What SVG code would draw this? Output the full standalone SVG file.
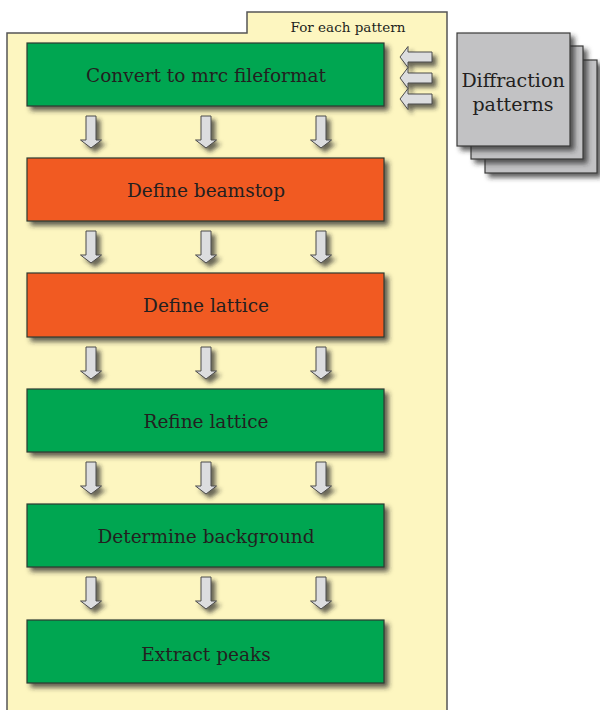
<svg xmlns="http://www.w3.org/2000/svg" width="600" height="710" viewBox="0 0 600 710">
<defs>
<filter id="sh" x="-20%" y="-20%" width="150%" height="150%">
<feDropShadow dx="4" dy="4" stdDeviation="2.5" flood-color="#2a2a2a" flood-opacity="0.75"/>
</filter>
<filter id="sha" x="-50%" y="-30%" width="220%" height="170%">
<feDropShadow dx="4" dy="4" stdDeviation="2.2" flood-color="#2a2a2a" flood-opacity="0.7"/>
</filter>
<path id="down" d="M-5,0 H5 V24 H10.5 L0,32 L-10.5,24 H-5 Z"/>
<path id="left" d="M32,-5 V5 H8 V10.5 L0,0 L8,-10.5 V-5 Z"/>
</defs>
<style>
.box{stroke:#2f3a33;stroke-width:1.2;filter:url(#sh)}
.g{fill:#00a651}
.o{fill:#f15a24}
.t{font-family:"DejaVu Serif","Liberation Serif",serif;font-size:18.5px;fill:#231f20;text-anchor:middle}
.d{font-family:"DejaVu Serif","Liberation Serif",serif;font-size:19px;fill:#231f20;text-anchor:middle}
.s{font-family:"DejaVu Serif","Liberation Serif",serif;font-size:13.5px;fill:#231f20;text-anchor:middle}
.arr{fill:#dcdddf;stroke:#4a4a4a;stroke-width:1;filter:url(#sha)}
.gray{fill:#c2c2c4;stroke:#3a3a3a;stroke-width:1.2;filter:url(#sh)}
</style>
<rect width="600" height="710" fill="#ffffff"/>
<g id="panel">
<path d="M7,715 V33 H247 V12 H447 V715" fill="#fdf6c0" stroke="#555" stroke-width="1.5"/>
<text class="s" x="348" y="32">For each pattern</text>
</g>
<g id="patterns">
<rect class="gray" x="485" y="60" width="112" height="113"/>
<rect class="gray" x="471" y="46" width="112" height="113"/>
<rect class="gray" x="457" y="33" width="113" height="113"/>
<text class="d" x="513" y="87">Diffraction</text>
<text class="d" x="513" y="111">patterns</text>
</g>
<g id="connectors">
<use href="#left" class="arr" x="400" y="57"/>
<use href="#left" class="arr" x="400" y="78"/>
<use href="#left" class="arr" x="400" y="99"/>
<use href="#down" class="arr" x="91" y="116"/>
<use href="#down" class="arr" x="206" y="116"/>
<use href="#down" class="arr" x="321" y="116"/>
<use href="#down" class="arr" x="91" y="231"/>
<use href="#down" class="arr" x="206" y="231"/>
<use href="#down" class="arr" x="321" y="231"/>
<use href="#down" class="arr" x="91" y="347"/>
<use href="#down" class="arr" x="206" y="347"/>
<use href="#down" class="arr" x="321" y="347"/>
<use href="#down" class="arr" x="91" y="462"/>
<use href="#down" class="arr" x="206" y="462"/>
<use href="#down" class="arr" x="321" y="462"/>
<use href="#down" class="arr" x="91" y="577"/>
<use href="#down" class="arr" x="206" y="577"/>
<use href="#down" class="arr" x="321" y="577"/>
</g>
<g id="convert"><rect class="box g" x="27" y="43" width="357" height="63"/><text class="t" x="206" y="82">Convert to mrc fileformat</text></g>
<g id="beamstop"><rect class="box o" x="27" y="158" width="357" height="63"/><text class="t" x="206" y="197">Define beamstop</text></g>
<g id="deflattice"><rect class="box o" x="27" y="273" width="357" height="64"/><text class="t" x="206" y="312">Define lattice</text></g>
<g id="refine"><rect class="box g" x="27" y="389" width="357" height="63"/><text class="t" x="206" y="428">Refine lattice</text></g>
<g id="background"><rect class="box g" x="27" y="504" width="357" height="63"/><text class="t" x="206" y="543">Determine background</text></g>
<g id="extract"><rect class="box g" x="27" y="620" width="357" height="63"/><text class="t" x="206" y="661">Extract peaks</text></g>
</svg>
